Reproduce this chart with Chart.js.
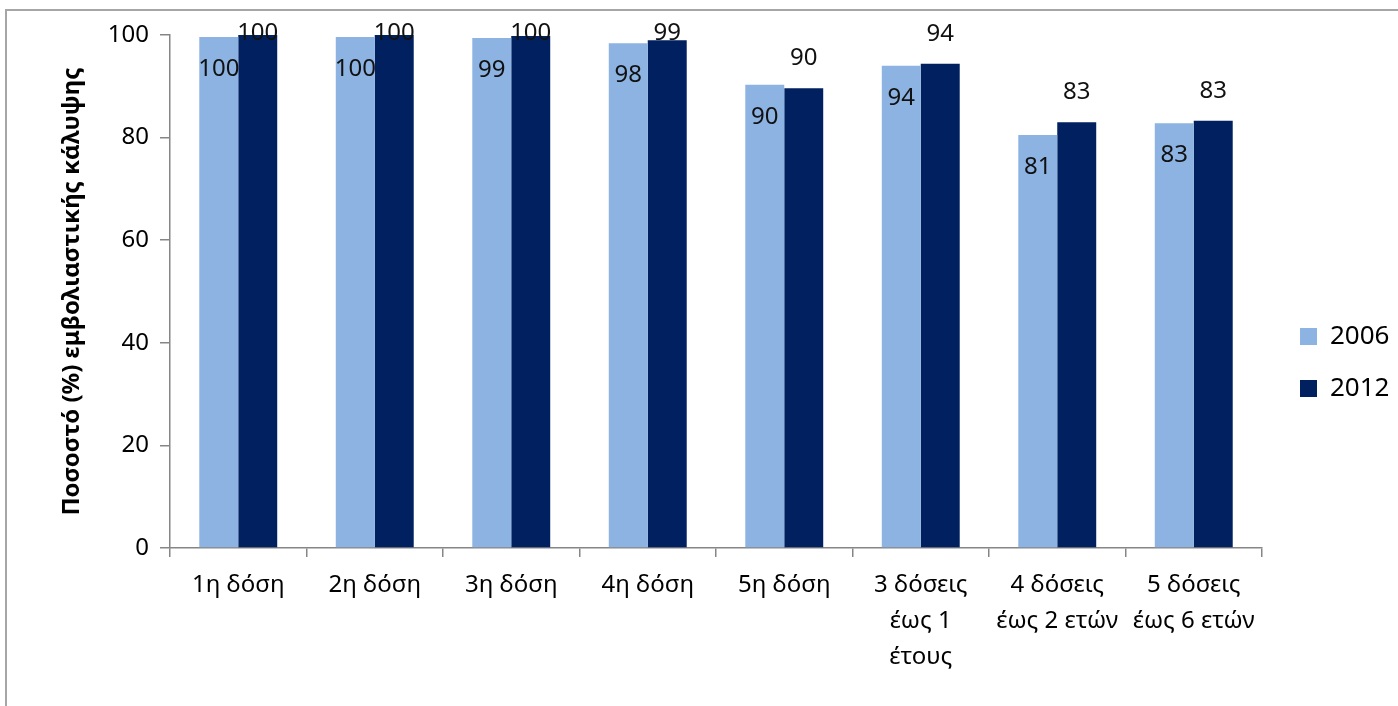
<!DOCTYPE html>
<html>
<head>
<meta charset="utf-8">
<script src="https://cdn.jsdelivr.net/npm/chart.js@4/dist/chart.umd.min.js"></script>
<style>
  html, body { margin: 0; padding: 0; background: #fff; overflow: hidden; }
  #wrap { position: relative; width: 1398px; height: 706px; }
  #frame { position: absolute; left: 5px; top: 9px; width: 1500px; height: 800px;
           border-top: 2px solid #a6a6a6; border-left: 2px solid #a6a6a6; }
  canvas { position: absolute; left: 0; top: 0; }
</style>
</head>
<body>
<div id="wrap">
  <div id="frame"></div>
  <canvas id="chart" width="1398" height="706"></canvas>
</div>
<script>
// dose categories (multi-line labels as in the original)
const categories = [
    ['1η δόση'],
    ['2η δόση'],
    ['3η δόση'],
    ['4η δόση'],
    ['5η δόση'],
    ['3 δόσεις', 'έως 1', 'έτους'],
    ['4 δόσεις', 'έως 2 ετών'],
    ['5 δόσεις', 'έως 6 ετών']
];
const coverage2006 = [99.6, 99.6, 99.4, 98.4, 90.3, 94.0, 80.5, 82.8];
const coverage2012 = [100, 100, 99.8, 99.0, 89.6, 94.4, 83.0, 83.3];
const yTicks = [0, 20, 40, 60, 80, 100];

const FONT = '"Noto Sans", "DejaVu Sans", sans-serif';
Chart.defaults.font.family = FONT;
Chart.defaults.color = '#000';

// data labels: 2006 inside the bar top, 2012 above the bar
const valueLabels = {
    id: 'valueLabels',
    afterDatasetsDraw(chart) {
        const ctx = chart.ctx;
        const area = chart.chartArea;
        ctx.save();
        ctx.font = '24px ' + FONT;
        ctx.fillStyle = '#111';
        ctx.textAlign = 'center';
        ctx.textBaseline = 'middle';
        chart.data.datasets.forEach((ds, i) => {
            chart.getDatasetMeta(i).data.forEach((bar, j) => {
                const txt = Math.round(ds.data[j]).toString();
                let y;
                if (i === 0) {
                    y = bar.y + 32;
                } else {
                    y = Math.max(bar.y - 30, area.top - 2);
                }
                ctx.fillText(txt, bar.x, y);
            });
        });
        ctx.restore();
    }
};

// keep the legend column a fixed width and nudge its items right
const legendPlacement = {
    id: 'legendPlacement',
    beforeLayout(chart) {
        const lg = chart.legend;
        if (lg && !lg._fixed) {
            const fit = lg.fit.bind(lg);
            lg.fit = function() { fit(); this.width = 136; };
            lg._fixed = true;
        }
    },
    afterLayout(chart) {
        const lg = chart.legend;
        lg.left += 12;
        lg.right += 12;
    }
};

new Chart(document.getElementById('chart'), {
    type: 'bar',
    data: {
        labels: categories,
        datasets: [{
            label: '2006',
            data: coverage2006,
            backgroundColor: '#8db3e2',
            categoryPercentage: 0.571,
            barPercentage: 1.0
        }, {
            label: '2012',
            data: coverage2012,
            backgroundColor: '#002060',
            categoryPercentage: 0.571,
            barPercentage: 1.0
        }]
    },
    options: {
        responsive: false,
        animation: false,
        layout: { padding: { top: 35, right: 0, bottom: 16, left: 0 } },
        plugins: {
            tooltip: { enabled: false },
            legend: {
                position: 'right',
                labels: {
                    boxWidth: 17,
                    boxHeight: 17,
                    padding: 26,
                    color: '#000',
                    font: { size: 26 }
                }
            }
        },
        scales: {
            x: {
                afterFit(scale) { scale.height = 142; },
                grid: {
                    drawOnChartArea: false,
                    drawTicks: true,
                    tickLength: 9,
                    color: '#868686',
                    lineWidth: 1.5
                },
                border: { color: '#868686', width: 1.5 },
                ticks: {
                    padding: 10,
                    maxRotation: 0,
                    autoSkip: false,
                    color: '#000',
                    font: { size: 24, lineHeight: 1.5 }
                }
            },
            y: {
                min: 0,
                max: 100,
                afterFit(scale) { scale.width = 170; },
                afterBuildTicks(scale) { scale.ticks = yTicks.map(v => ({ value: v })); },
                grid: {
                    drawOnChartArea: false,
                    drawTicks: true,
                    tickLength: 10,
                    color: '#868686',
                    lineWidth: 1.5
                },
                border: { color: '#868686', width: 1.5 },
                ticks: {
                    padding: 11,
                    color: '#000',
                    font: { size: 24 }
                },
                title: {
                    display: true,
                    text: 'Ποσοστό (%) εμβολιαστικής κάλυψης',
                    color: '#000',
                    font: { size: 24, weight: 'bold' },
                    padding: { top: 58, bottom: 0 }
                }
            }
        }
    },
    plugins: [valueLabels, legendPlacement]
});
</script>
</body>
</html>
